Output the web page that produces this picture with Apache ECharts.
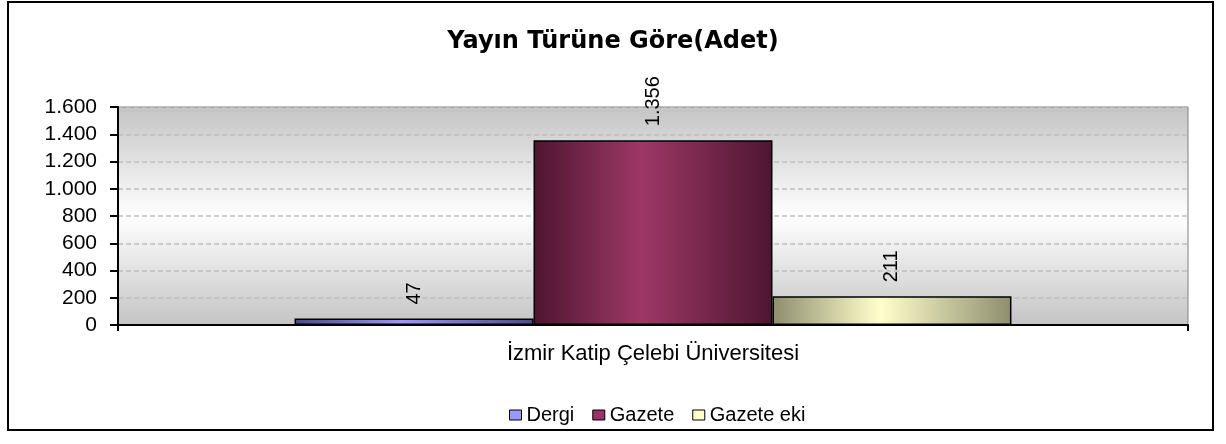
<!DOCTYPE html>
<html><head><meta charset="utf-8">
<script src="https://cdn.jsdelivr.net/npm/echarts@6/dist/echarts.min.js"></script>
<style>html,body{margin:0;padding:0;background:#fff}#c{width:1226px;height:444px}</style>
</head><body><div id="c"></div>
<script>
const title = 'Yayın Türüne Göre(Adet)';
const categories = ['İzmir Katip Çelebi Üniversitesi'];
const seriesNames = ['Dergi', 'Gazete', 'Gazete eki'];
const dergi = [47];
const gazete = [1356];
const gazeteEki = [211];
const yTicks = [0, 200, 400, 600, 800, 1000, 1200, 1400, 1600];

const chart = echarts.init(document.getElementById('c'));
function grad(edge, mid) {
  return new echarts.graphic.LinearGradient(0, 0, 1, 0, [
    {offset: 0, color: edge}, {offset: 0.45, color: mid}, {offset: 1, color: edge}
  ]);
}
const styles = [
  {edge: '#4b4b8a', mid: '#9999ff', solid: '#9999ff'},
  {edge: '#4e1530', mid: '#9d3866', solid: '#993366'},
  {edge: '#8e8e6e', mid: '#ffffcc', solid: '#ffffcc'}
];
const datas = [dergi, gazete, gazeteEki];
const fmt = v => v.toLocaleString('de-DE');
chart.setOption({
  animation: false,
  title: {text: title, left: 'center', top: 25,
    textStyle: {fontFamily: 'DejaVu Sans', fontWeight: 'bold', fontSize: 24, color: '#000'}},
  graphic: [{type: 'rect', shape: {x: 8, y: 2, width: 1205, height: 428},
    style: {fill: 'none', stroke: '#000', lineWidth: 2}, silent: true}],
  legend: {left: 504, top: 400, itemWidth: 12, itemHeight: 10, itemGap: 18,
    textStyle: {fontFamily: 'Liberation Sans', fontSize: 20, color: '#000'},
    data: seriesNames.map((n, i) => ({name: n, icon: 'rect',
      itemStyle: {color: styles[i].solid, borderColor: '#000', borderWidth: 1}}))},
  grid: {left: 118, right: 38, top: 107, bottom: 119, show: true,
    backgroundColor: new echarts.graphic.LinearGradient(0, 0, 0, 1, [
      {offset: 0, color: '#c4c4c4'}, {offset: 0.5, color: '#ffffff'}, {offset: 1, color: '#c4c4c4'}]),
    borderColor: '#808080', borderWidth: 1},
  xAxis: {type: 'category', data: categories,
    axisLine: {lineStyle: {color: '#000', width: 2}},
    axisTick: {show: true, length: 6, lineStyle: {color: '#000', width: 2}},
    axisLabel: {fontFamily: 'Liberation Sans', fontSize: 22, color: '#000', margin: 18}},
  yAxis: {type: 'value', min: yTicks[0], max: yTicks[yTicks.length - 1], interval: 200,
    axisLine: {show: true, lineStyle: {color: '#000', width: 2}},
    axisTick: {show: true, length: 8, lineStyle: {color: '#000', width: 2}},
    splitLine: {lineStyle: {color: '#c0c0c0', type: [5, 3], width: 1.5}},
    axisLabel: {fontFamily: 'Liberation Sans', fontSize: 21, color: '#000', margin: 21,
      formatter: v => fmt(v)}},
  series: seriesNames.map((n, i) => ({
    name: n, type: 'bar', data: datas[i], barGap: '0%', barCategoryGap: '33%',
    itemStyle: {color: grad(styles[i].edge, styles[i].mid), borderColor: '#000', borderWidth: 1.5},
    label: {show: true, position: 'top', rotate: 90, align: 'left', verticalAlign: 'middle',
      distance: 14, fontFamily: 'Liberation Sans', fontSize: 20, color: '#000',
      formatter: p => fmt(p.value)}
  }))
});
</script></body></html>
